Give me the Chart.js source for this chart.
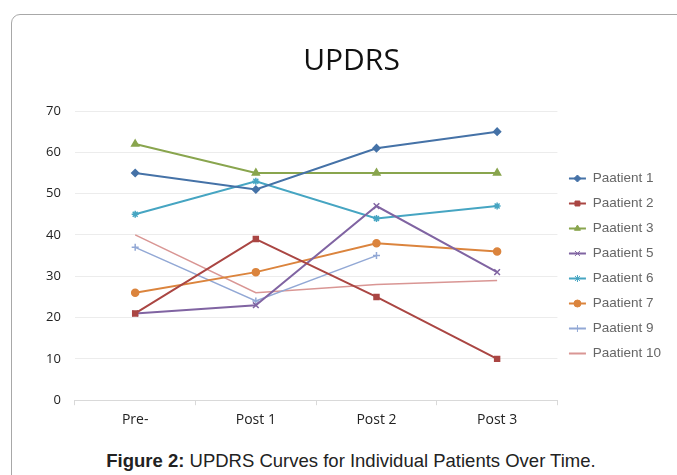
<!DOCTYPE html>
<html>
<head>
<meta charset="utf-8">
<script src="https://cdn.jsdelivr.net/npm/chart.js@4/dist/chart.umd.min.js"></script>
<style>
  body { margin: 0; background: #fff; width: 677px; height: 475px; overflow: hidden; position: relative; }
  #frame { position: absolute; left: 11px; top: 14px; width: 720px; height: 520px;
           border: 1px solid #a8a8a8; border-radius: 9px; }
  #wrap { position: absolute; left: 0; top: 0; width: 677px; height: 434px; }
  #caption { position: absolute; left: 11px; width: 680px; top: 450px; text-align: center;
             font: 18.5px "Liberation Sans", Arial, sans-serif; color: #222; }
</style>
</head>
<body>
<div id="frame"></div>
<div id="wrap"><canvas id="chart"></canvas></div>
<div id="caption"><b>Figure 2:</b> UPDRS Curves for Individual Patients Over Time.</div>
<script>
// data
const visits = ["Pre-", "Post 1", "Post 2", "Post 3"];
const patient1 = [55, 51, 61, 65];
const patient2 = [21, 39, 25, 10];
const patient3 = [62, 55, 55, 55];
const patient5 = [21, 23, 47, 31];
const patient6 = [45, 53, 44, 47];
const patient7 = [26, 31, 38, 36];
const patient9 = [37, 24, 35, null];
const patient10 = [40, 26, 28, 29];

const sans = '"Open Sans", sans-serif';

function series(label, data, color, style, width, radius) {
  return {
    label: label,
    data: data,
    borderColor: color,
    backgroundColor: color,
    pointStyle: style,
    pointRadius: radius,
    pointBorderWidth: 1.5,
    borderWidth: width,
    tension: 0,
    spanGaps: false
  };
}

const datasets = [
  series("Paatient 1", patient1, "#4572A7", "rectRot", 2, 3.5),
  series("Paatient 2", patient2, "#AA4643", "rect", 2, 3.5),
  series("Paatient 3", patient3, "#89A54E", "triangle", 2, 4),
  series("Paatient 5", patient5, "#8064A2", "crossRot", 2, 4),
  series("Paatient 6", patient6, "#46A5C2", "star", 2, 3.5),
  series("Paatient 7", patient7, "#DB843D", "circle", 2, 3.5),
  series("Paatient 9", patient9, "#92A8D5", "cross", 1.5, 3.5),
  series("Paatient 10", patient10, "#D99694", "circle", 1.5, 0)
];

// put the series marker on top of each legend line, Excel style
const legendMarkers = {
  id: "legendMarkers",
  afterDraw(chart) {
    const lg = chart.legend;
    const h = Chart.helpers;
    if (!lg || !lg.legendHitBoxes || !h || !h.drawPoint) return;
    const ctx = chart.ctx;
    const bw = lg.options.labels.boxWidth;
    lg.legendHitBoxes.forEach((hb, i) => {
      const ds = chart.data.datasets[i];
      if (!ds.pointRadius) return;
      ctx.save();
      ctx.fillStyle = ds.borderColor;
      ctx.strokeStyle = ds.borderColor;
      h.drawPoint(ctx, { pointStyle: ds.pointStyle, radius: 3.5, rotation: 0, borderWidth: 1.5 },
        hb.left + bw / 2, hb.top + hb.height / 2);
      ctx.restore();
    });
  }
};

new Chart(document.getElementById("chart"), {
  type: "line",
  data: { labels: visits, datasets: datasets },
  plugins: [legendMarkers],
  options: {
    responsive: true,
    maintainAspectRatio: false,
    animation: false,
    layout: { padding: { left: 32, right: 6, bottom: 0, top: 0 } },
    plugins: {
      title: {
        display: true,
        text: "UPDRS",
        color: "#111",
        font: { family: sans, size: 30, weight: "normal" },
        padding: { top: 43, bottom: 32 }
      },
      legend: {
        position: "right",
        align: "center",
        title: { display: true, text: " ", font: { size: 2, lineHeight: 1 }, padding: 48 },
        labels: {
          boxWidth: 17,
          boxHeight: 2,
          padding: 11.5,
          color: "#222",
          font: { family: '"Liberation Sans", Arial, sans-serif', size: 13.5, lineHeight: 1 },
          generateLabels(chart) {
            return chart.data.datasets.map((ds, i) => ({
              text: ds.label,
              fillStyle: ds.borderColor,
              strokeStyle: ds.borderColor,
              lineWidth: 0,
              datasetIndex: i,
              hidden: false
            }));
          }
        }
      },
      tooltip: { enabled: false }
    },
    scales: {
      x: {
        offset: true,
        grid: { offset: true, drawOnChartArea: false, drawTicks: true, tickLength: 5, color: "#d9d9d9" },
        border: { color: "#d9d9d9" },
        ticks: { color: "#222", padding: 6, font: { family: sans, size: 14 } }
      },
      y: {
        min: 0,
        max: 70,
        ticks: { stepSize: 10, color: "#222", padding: 14, font: { family: sans, size: 13 } },
        grid: { color: "#ececec", drawTicks: false },
        border: { display: false }
      }
    }
  }
});
</script>
</body>
</html>
